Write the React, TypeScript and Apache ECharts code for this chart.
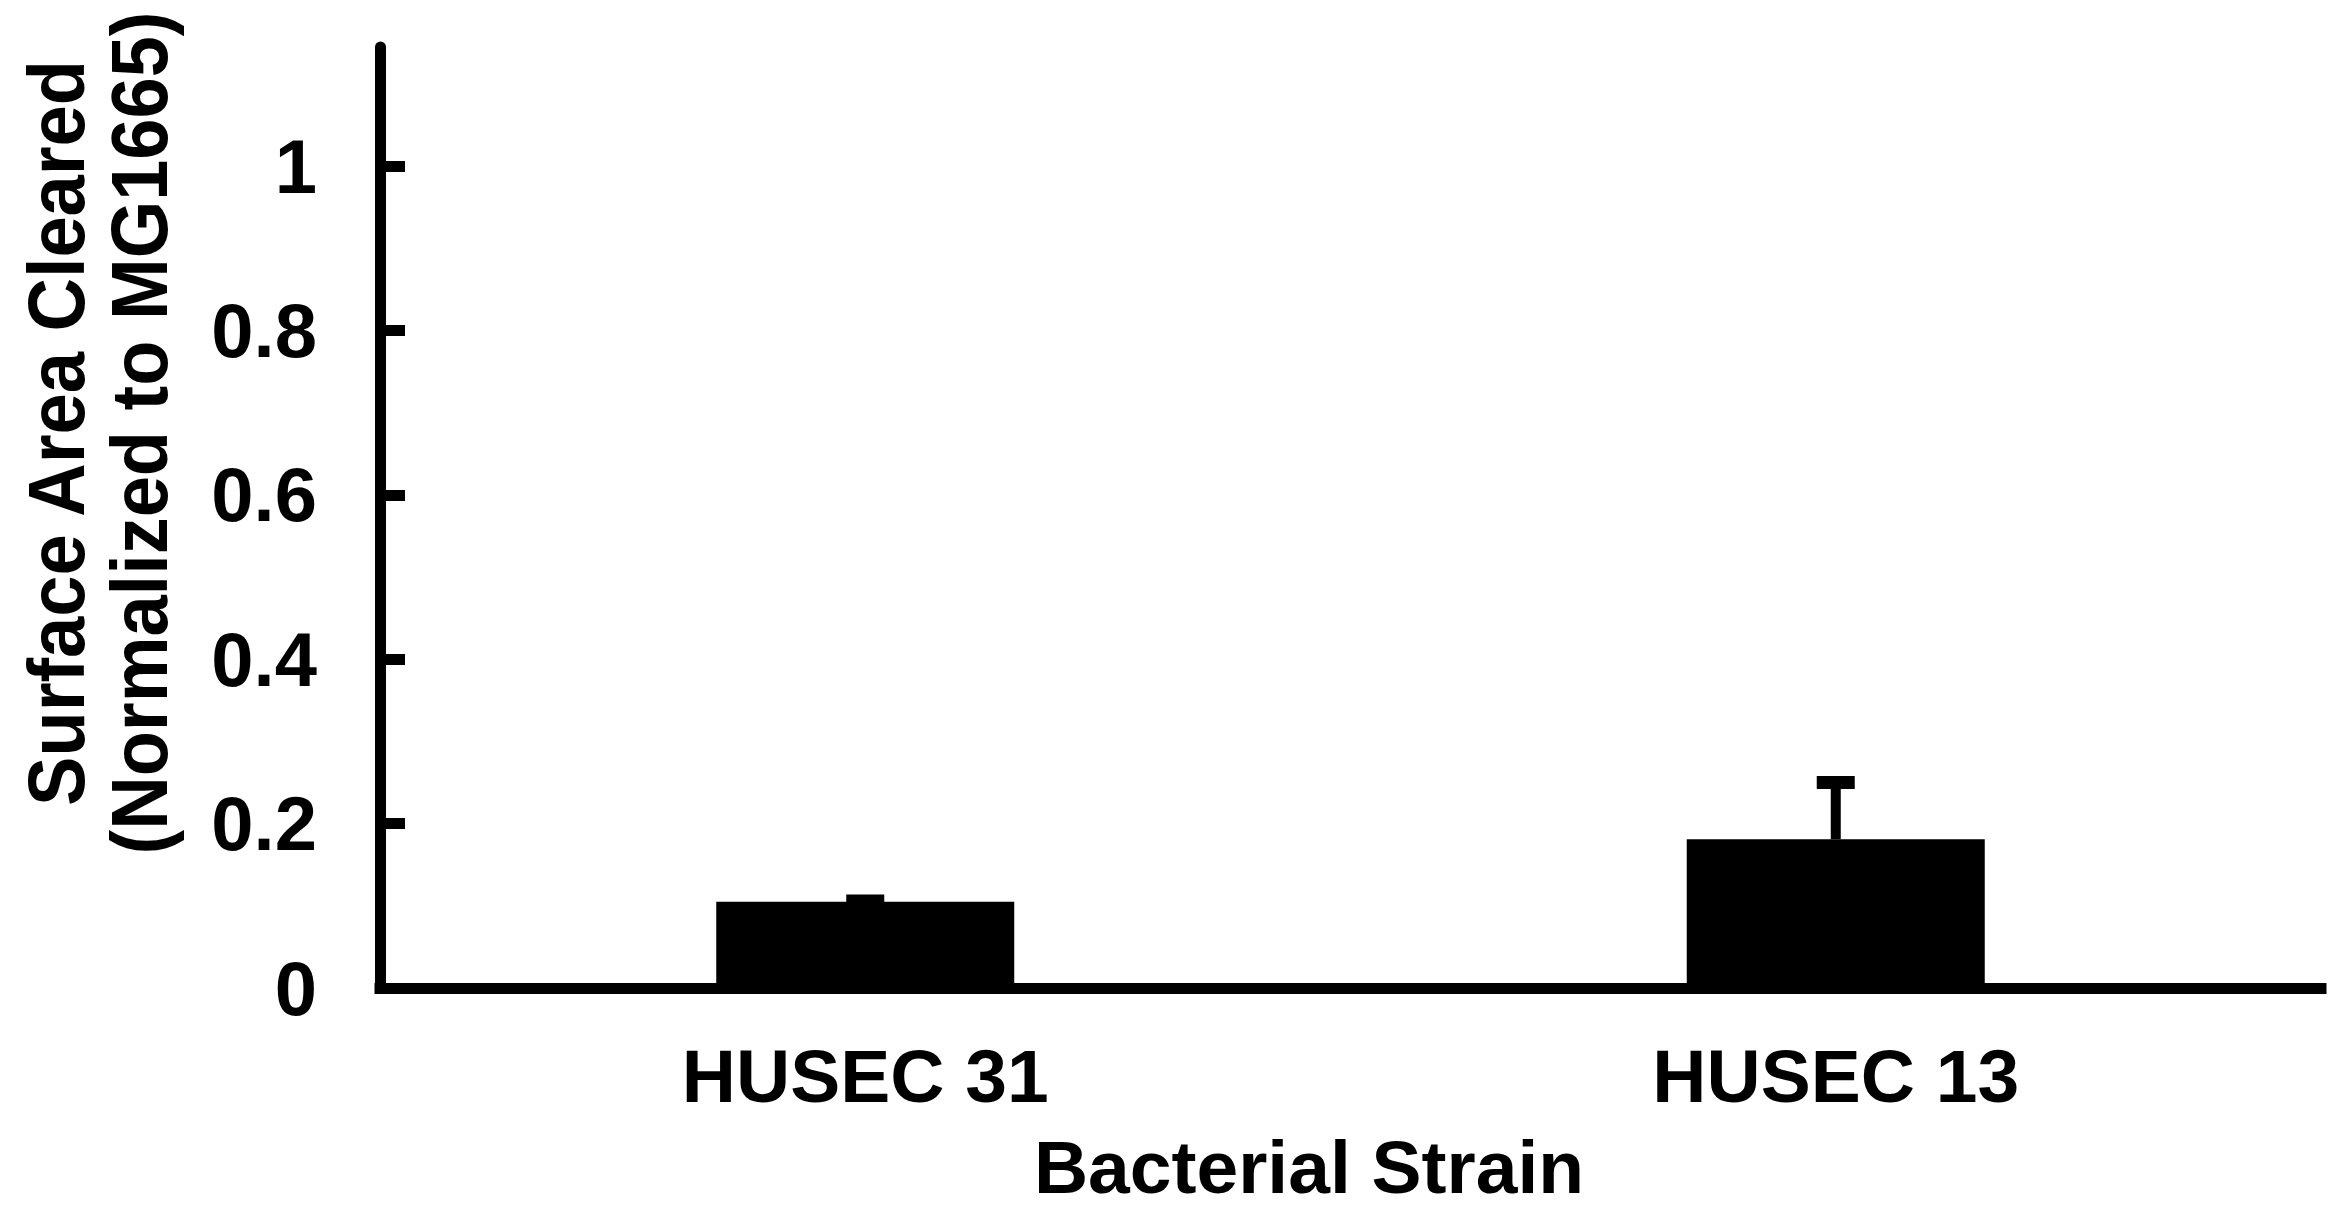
import React, { useEffect, useRef } from "react";
import * as echarts from "echarts";

const categories = ["HUSEC 31", "HUSEC 13"];
const means = [0.105, 0.181];
const errors = [0.001, 0.069];
const yTickValues = [0, 0.2, 0.4, 0.6, 0.8, 1];
const yMax = 1.145;
const xTitle = "Bacterial Strain";
const yTitle = "Surface Area Cleared\n(Normalized to MG1665)";

const FONT = "'Liberation Sans', Arial, Helvetica, sans-serif";

export default function App() {
  const ref = useRef<HTMLDivElement>(null);
  useEffect(() => {
    if (!ref.current) return;
    const chart = echarts.init(ref.current, undefined, { renderer: "svg" });
    const errData = categories.map((c, i) => [i, means[i], errors[i]]);
    chart.setOption({
      animation: false,
      backgroundColor: "#ffffff",
      grid: { left: 380, right: 15, top: 47, bottom: 223, containLabel: false },
      xAxis: {
        type: "category",
        data: categories,
        boundaryGap: true,
        axisLine: { show: true, lineStyle: { color: "#000", width: 11, cap: "square" } },
        axisTick: { show: false },
        axisLabel: {
          color: "#000",
          fontFamily: FONT,
          fontWeight: "bold",
          fontSize: 75,
          lineHeight: 75,
          margin: 50,
        },
        splitLine: { show: false },
      },
      yAxis: {
        type: "value",
        min: 0,
        max: yMax,
        axisLine: { show: true, lineStyle: { color: "#000", width: 11 } },
        axisTick: {
          show: true,
          inside: true,
          length: 25,
          lineStyle: { color: "#000", width: 11 },
          customValues: yTickValues,
        },
        axisLabel: {
          color: "#000",
          fontFamily: FONT,
          fontWeight: "bold",
          fontSize: 76,
          margin: 63,
          customValues: yTickValues,
        },
        splitLine: { show: false },
      },
      graphic: [
        {
          type: "text",
          x: 1309,
          y: 1167,
          style: {
            text: xTitle,
            align: "center",
            verticalAlign: "middle",
            fill: "#000",
            font: `bold 75px ${FONT}`,
            lineHeight: 72,
          },
        },
        {
          type: "text",
          x: 98,
          y: 433,
          rotation: Math.PI / 2,
          scaleY: 1.07,
          style: {
            text: yTitle,
            align: "center",
            verticalAlign: "middle",
            fill: "#000",
            font: `bold 74px ${FONT}`,
            lineHeight: 77,
          },
        },
      ],
      series: [
        {
          type: "bar",
          data: means,
          barWidth: 298,
          itemStyle: { color: "#000" },
          z: 2,
        },
        {
          type: "custom",
          data: errData,
          z: 3,
          renderItem: (params: any, api: any) => {
            const idx = api.value(0);
            const m = api.value(1);
            const e = api.value(2);
            const base = api.coord([idx, m]);
            const top = api.coord([idx, m + e]);
            const half = 19;
            return {
              type: "group",
              children: [
                {
                  type: "line",
                  shape: { x1: base[0], y1: base[1], x2: top[0], y2: top[1] },
                  style: { stroke: "#000", lineWidth: 10 },
                },
                {
                  type: "line",
                  shape: { x1: top[0] - half, y1: top[1], x2: top[0] + half, y2: top[1] },
                  style: { stroke: "#000", lineWidth: 13 },
                },
              ],
            };
          },
        },
      ],
    });
    return () => chart.dispose();
  }, []);
  return (
    <div
      ref={ref}
      style={{ position: "fixed", left: 0, top: 0, width: 2336, height: 1211, background: "#fff" }}
    />
  );
}
